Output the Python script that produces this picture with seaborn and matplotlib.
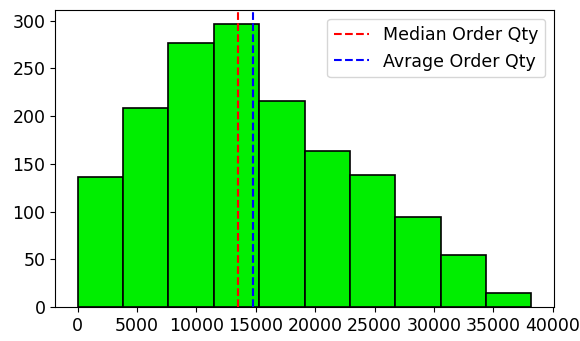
import matplotlib
matplotlib.use("Agg")
import matplotlib.pyplot as plt
import seaborn as sns
import numpy as np

# Data
bin_edges = [0, 3820, 7640, 11460, 15280, 19100, 22920, 26740, 30560, 34380, 38200]
counts = [136, 208, 277, 296, 216, 163, 138, 94, 54, 15]
median_qty = 13500
mean_qty = 14750

plt.rcParams['font.family'] = ['DejaVu Sans']
plt.rcParams['font.size'] = 12.5

centers = [(bin_edges[i] + bin_edges[i + 1]) / 2 for i in range(len(counts))]

fig, ax = plt.subplots(figsize=(5.8, 3.41), dpi=100)
fig.subplots_adjust(left=0.095, right=0.955, top=0.970, bottom=0.0997)

sns.histplot(x=centers, weights=counts, bins=bin_edges, color='#00ee00',
             edgecolor='black', linewidth=1.2, alpha=1, ax=ax)
ax.axvline(median_qty, color='red', linestyle='--', linewidth=1.5, label='Median Order Qty')
ax.axvline(mean_qty, color='blue', linestyle='--', linewidth=1.5, label='Avrage Order Qty')

ax.set_xticks([0, 5000, 10000, 15000, 20000, 25000, 30000, 35000, 40000])
ax.set_yticks([0, 50, 100, 150, 200, 250, 300])
ax.set_xlim(-1910, 40110)
ax.set_ylim(0, 310.8)
ax.set_xlabel('')
ax.set_ylabel('')
ax.legend(loc='upper right')

fig.savefig('out.png', dpi=100)
